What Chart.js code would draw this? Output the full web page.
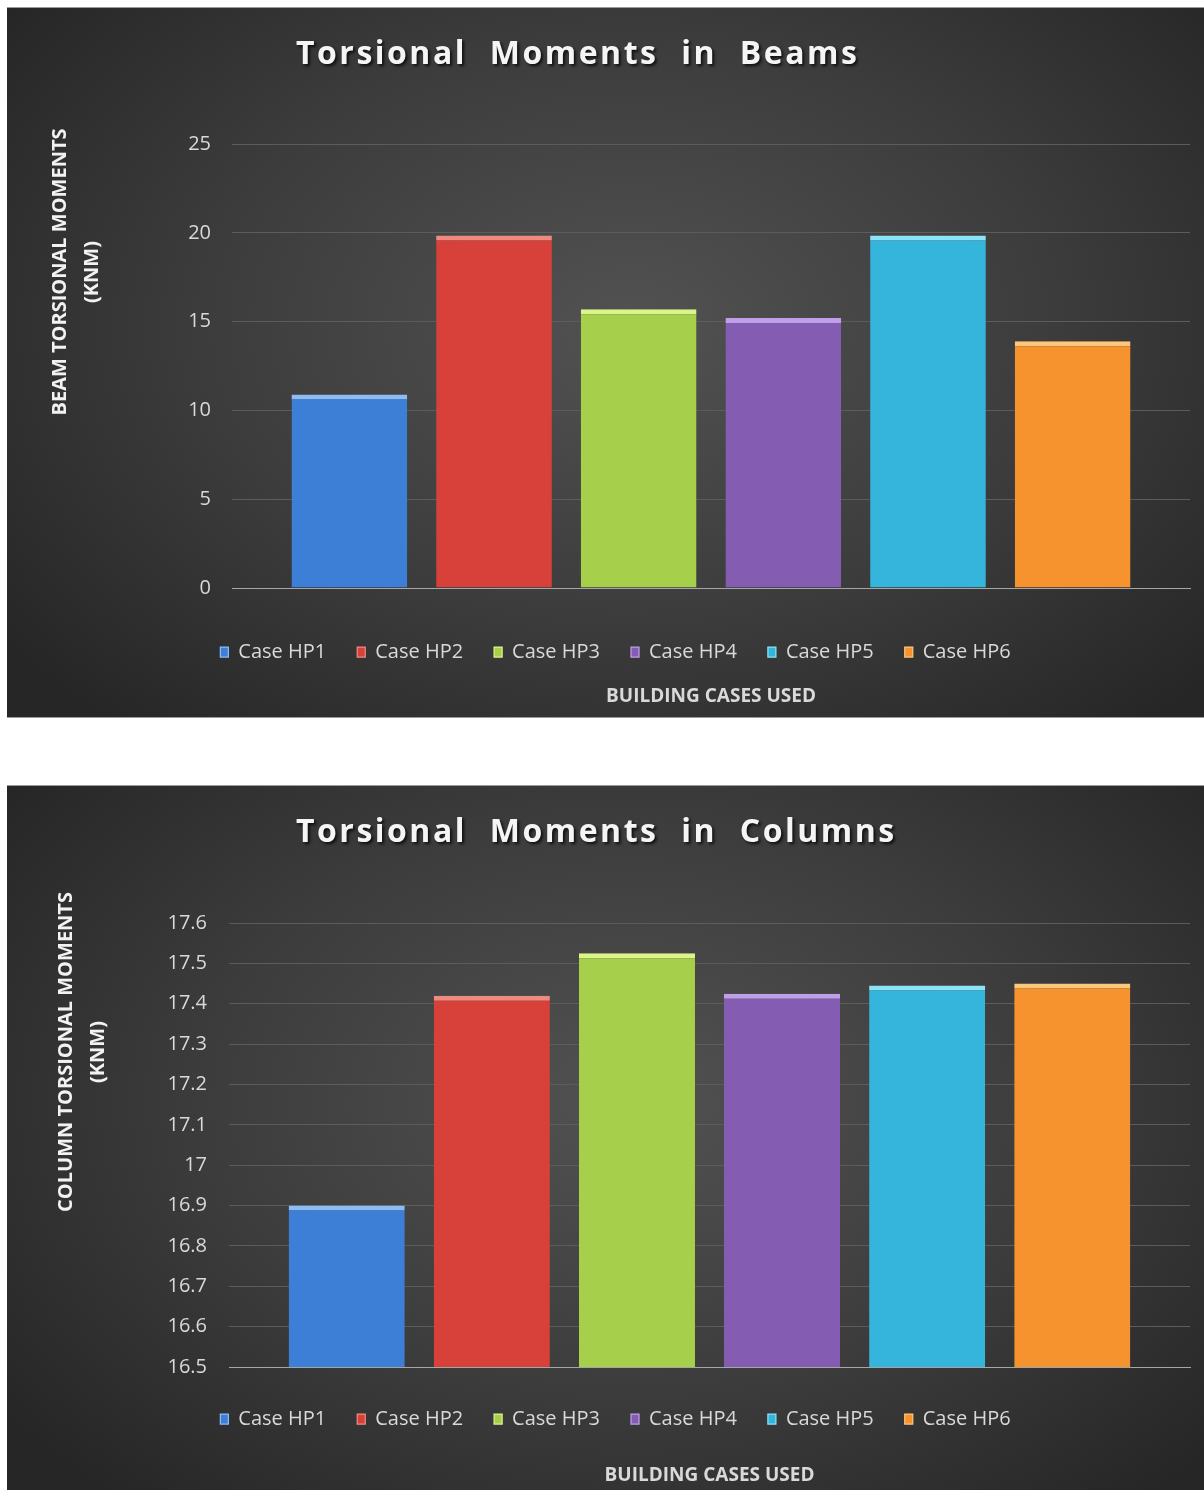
<!DOCTYPE html>
<html>
<head>
<meta charset="utf-8">
<title>Torsional Moments</title>
<script src="https://cdn.jsdelivr.net/npm/chart.js@4.4.1/dist/chart.umd.min.js"></script>
<style>
  html, body { margin: 0; padding: 0; background: #fff; }
  body { width: 1204px; height: 1490px; position: relative; overflow: hidden; }
  .panel {
    position: absolute; left: 7px; width: 1197px;
    background: radial-gradient(ellipse 65% 75% at 52% 45%, #525252 0%, #3c3c3c 55%, #262626 100%);
    border-top: 1px solid #9a9a9a; border-bottom: 1px solid #9a9a9a;
  }
  #p1 { top: 7px; height: 709px; }
  #p2 { top: 785px; height: 704px; }
  canvas { display: block; }
</style>
</head>
<body>
<div class="panel" id="p1"><canvas id="beamChart" width="1197" height="709"></canvas></div>
<div class="panel" id="p2"><canvas id="columnChart" width="1197" height="704"></canvas></div>

<script>
// values
const cases = ["Case HP1", "Case HP2", "Case HP3", "Case HP4", "Case HP5", "Case HP6"];
const beamMoments = [10.9, 19.85, 15.7, 15.2, 19.85, 13.9];
const columnMoments = [16.9, 17.42, 17.525, 17.425, 17.445, 17.45];
const beamTicks = [0, 5, 10, 15, 20, 25];
const columnTicks = [16.5, 16.6, 16.7, 16.8, 16.9, 17, 17.1, 17.2, 17.3, 17.4, 17.5, 17.6];

const barColors = ["#3d7fd6", "#d8413a", "#a6cf4c", "#845db3", "#36b5dc", "#f7932f"];
const bevelColors = ["#8cbcf5", "#f08a80", "#dcf58a", "#bfa0e8", "#8ae4f8", "#ffc77a"];

const FONT = '"Open Sans", "Liberation Sans", sans-serif';

// title, axis titles drawn at Excel-like positions
const panelText = {
  id: "panelText",
  afterDraw(chart, args, o) {
    const { ctx, chartArea } = chart;

    ctx.save();
    ctx.font = "bold 32px " + FONT;
    ctx.letterSpacing = "2.5px";
    ctx.wordSpacing = "12px";
    ctx.fillStyle = "#f5f5f5";
    ctx.shadowColor = "rgba(0,0,0,0.75)";
    ctx.shadowOffsetX = 2;
    ctx.shadowOffsetY = 2;
    ctx.shadowBlur = 3;
    ctx.textAlign = "left";
    ctx.textBaseline = "middle";
    ctx.fillText(o.title, o.titleX, o.titleY);
    ctx.restore();

    ctx.save();
    ctx.font = "bold 20px " + FONT;
    ctx.fillStyle = "#f2f2f2";
    ctx.textAlign = "center";
    ctx.textBaseline = "middle";
    o.yTitle.forEach((line, i) => {
      ctx.save();
      ctx.translate(o.yLineX[i], o.yTitleY);
      ctx.rotate(-Math.PI / 2);
      ctx.fillText(line, 0, 0);
      ctx.restore();
    });
    ctx.font = "bold 19px " + FONT;
    ctx.fillStyle = "#d9d9d9";
    ctx.fillText(o.xTitle, (chartArea.left + chartArea.right) / 2, o.xTitleY);
    ctx.restore();
  }
};

function makeChart(id, values, ticks, opts) {
  const datasets = cases.map((c, i) => ({
    label: c,
    data: [values[i]],
    backgroundColor: barColors[i],
    borderColor: bevelColors[i],
    borderWidth: { top: 5, left: 0, right: 0, bottom: 0 },
    barPercentage: 0.8,
    categoryPercentage: 0.906
  }));

  return new Chart(document.getElementById(id), {
    type: "bar",
    data: { labels: [""], datasets: datasets },
    plugins: [panelText],
    options: {
      responsive: false,
      animation: false,
      layout: { padding: { left: 34, right: 14, top: opts.top, bottom: opts.bottom } },
      scales: {
        x: {
          ticks: { display: false },
          grid: { display: false },
          border: { display: true, color: "#a6a6a6", width: 1 },
          afterFit: s => { s.height = opts.xHeight; }
        },
        y: {
          min: ticks[0],
          max: ticks[ticks.length - 1],
          afterBuildTicks: s => { s.ticks = ticks.map(v => ({ value: v })); },
          afterFit: s => { s.width = opts.yWidth; },
          border: { display: false },
          grid: {
            drawTicks: false,
            color: c => (c.index === 0 ? "#a6a6a6" : "#5c5c5c"),
            lineWidth: 1
          },
          ticks: {
            padding: opts.tickPad,
            color: "#d9d9d9",
            font: { family: FONT, size: 20 },
            callback: v => String(Number(v.toFixed(2)))
          }
        }
      },
      plugins: {
        tooltip: { enabled: false },
        legend: {
          position: "bottom",
          labels: {
            color: "#d9d9d9",
            font: { family: FONT, size: 20 },
            boxWidth: 8,
            boxHeight: 10,
            padding: 31
          }
        },
        panelText: opts.text
      }
    }
  });
}

makeChart("beamChart", beamMoments, beamTicks, {
  top: 136, bottom: 45, xHeight: 23, yWidth: 191, tickPad: 21,
  text: {
    title: "Torsional Moments in Beams", titleX: 289, titleY: 47,
    yTitle: ["BEAM TORSIONAL MOMENTS", "(KNM)"], yLineX: [53, 85], yTitleY: 264,
    xTitle: "BUILDING CASES USED", xTitleY: 689
  }
});

makeChart("columnChart", columnMoments, columnTicks, {
  top: 137, bottom: 51, xHeight: 11, yWidth: 188, tickPad: 22,
  text: {
    title: "Torsional Moments in Columns", titleX: 289, titleY: 47,
    yTitle: ["COLUMN TORSIONAL MOMENTS", "(KNM)"], yLineX: [59, 91], yTitleY: 266,
    xTitle: "BUILDING CASES USED", xTitleY: 690
  }
});
</script>
</body>
</html>
